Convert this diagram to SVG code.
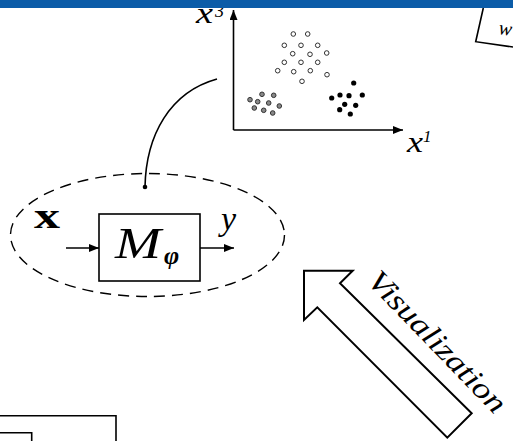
<svg xmlns="http://www.w3.org/2000/svg" width="513" height="441" viewBox="0 0 513 441">
<style>
.m{font-family:"Liberation Serif","DejaVu Serif",serif;font-style:italic;fill:#000}
.ln{stroke:#000;stroke-width:1.6;fill:none}
.op{fill:#fff;stroke:#333;stroke-width:1}
.gr{fill:#888;stroke:#333;stroke-width:1}
.bk{fill:#000}
</style>
<defs>
<marker id="ah" viewBox="0 0 10 8" refX="10" refY="4" markerWidth="10" markerHeight="8" markerUnits="userSpaceOnUse" orient="auto">
<path d="M0,0 L10,4 L0,8 Z" fill="#000"/>
</marker>
</defs>
<rect width="513" height="441" fill="#fff"/>
<g id="plot">
<line class="ln" x1="233.5" y1="130" x2="233.5" y2="10" marker-end="url(#ah)"/>
<line class="ln" x1="233.5" y1="130" x2="403" y2="130" marker-end="url(#ah)"/>
<text class="m" x="196" y="23" font-size="29" textLength="17" lengthAdjust="spacingAndGlyphs">x</text>
<text class="m" x="215" y="17" font-size="18" font-style="normal">3</text>
<text class="m" x="407" y="152" font-size="29" textLength="16" lengthAdjust="spacingAndGlyphs">x</text>
<text class="m" x="423" y="142" font-size="17" font-style="normal">1</text>
<g>
<circle class="op" cx="293.3" cy="34" r="2.3"/><circle class="op" cx="307.7" cy="34" r="2.3"/>
<circle class="op" cx="284.3" cy="45.3" r="2.3"/><circle class="op" cx="301" cy="45.3" r="2.3"/><circle class="op" cx="317.7" cy="45.3" r="2.3"/>
<circle class="op" cx="292.7" cy="53.7" r="2.3"/><circle class="op" cx="310" cy="54.3" r="2.3"/><circle class="op" cx="326.7" cy="53" r="2.3"/>
<circle class="op" cx="284.3" cy="62.3" r="2.3"/><circle class="op" cx="301" cy="62.3" r="2.3"/><circle class="op" cx="317.7" cy="62.3" r="2.3"/>
<circle class="op" cx="277.7" cy="70.7" r="2.3"/><circle class="op" cx="293.7" cy="71.7" r="2.3"/><circle class="op" cx="310.3" cy="70.7" r="2.3"/>
<circle class="op" cx="327" cy="74.7" r="2.3"/><circle class="op" cx="302" cy="81.3" r="2.3"/>
</g>
<g>
<circle class="gr" cx="250" cy="99.7" r="2.3"/><circle class="gr" cx="262" cy="94.3" r="2.3"/><circle class="gr" cx="273.7" cy="95.3" r="2.3"/>
<circle class="gr" cx="257.7" cy="101.7" r="2.3"/><circle class="gr" cx="268.7" cy="103" r="2.3"/><circle class="gr" cx="279.3" cy="106" r="2.3"/>
<circle class="gr" cx="254.3" cy="108" r="2.3"/><circle class="gr" cx="263.7" cy="110.3" r="2.3"/><circle class="gr" cx="272.7" cy="113" r="2.3"/>
</g>
<g>
<circle class="bk" cx="353.7" cy="83" r="2.6"/><circle class="bk" cx="331.7" cy="98" r="2.6"/><circle class="bk" cx="340" cy="95" r="2.6"/>
<circle class="bk" cx="349" cy="95.7" r="2.6"/><circle class="bk" cx="362.3" cy="95" r="2.6"/><circle class="bk" cx="344.7" cy="104.3" r="2.6"/>
<circle class="bk" cx="355.7" cy="105.3" r="2.6"/><circle class="bk" cx="339.7" cy="109.7" r="2.6"/><circle class="bk" cx="350.3" cy="114" r="2.6"/>
</g>
</g>
<g id="connectors">
<path class="ln" d="M145,187 C146,135 170,92 217,79"/>
<circle cx="145" cy="187" r="2.3" fill="#000"/>
<line class="ln" x1="66" y1="248" x2="99" y2="248" marker-end="url(#ah)"/>
<line class="ln" x1="200" y1="248" x2="234" y2="248" marker-end="url(#ah)"/>
</g>
<g id="model">
<ellipse cx="147.5" cy="235" rx="137" ry="61.5" fill="none" stroke="#000" stroke-width="1.4" stroke-dasharray="11,7"/>
<rect x="99" y="214" width="101" height="67" fill="#fff" stroke="#000" stroke-width="1.6"/>
<text class="m" x="115" y="258" font-size="44" textLength="46" lengthAdjust="spacingAndGlyphs">M</text>
<text class="m" x="164" y="264" font-size="26" font-weight="bold">φ</text>
<text x="34" y="228" font-family="Liberation Serif,serif" font-weight="bold" font-size="36" textLength="26" lengthAdjust="spacingAndGlyphs">x</text>
<text class="m" x="221" y="230" font-size="34">y</text>
</g>
<g id="visualization">
<path d="M304,270.7 L352.7,270.7 L340,283.3 L471.7,413.3 L447.3,437.7 L317.3,307.3 L304,320 Z" fill="#fff" stroke="#000" stroke-width="2" stroke-linejoin="miter"/>
<text class="m" font-size="30" transform="translate(366,282) rotate(46)" textLength="185" lengthAdjust="spacingAndGlyphs">Visualization</text>
</g>
<g id="bottom-left">
<path class="ln" d="M0,415.7 H116 V441"/>
<path class="ln" d="M0,432.7 H31.7 V441"/>
</g>
<g id="top-right">
<path class="ln" d="M483.3,8 L475.7,41.7 L513,47"/>
<text class="m" font-size="20" transform="translate(498,34) rotate(8)">w</text>
</g>
<rect x="0" y="0" width="513" height="8" fill="#0b5ca8"/>
</svg>
